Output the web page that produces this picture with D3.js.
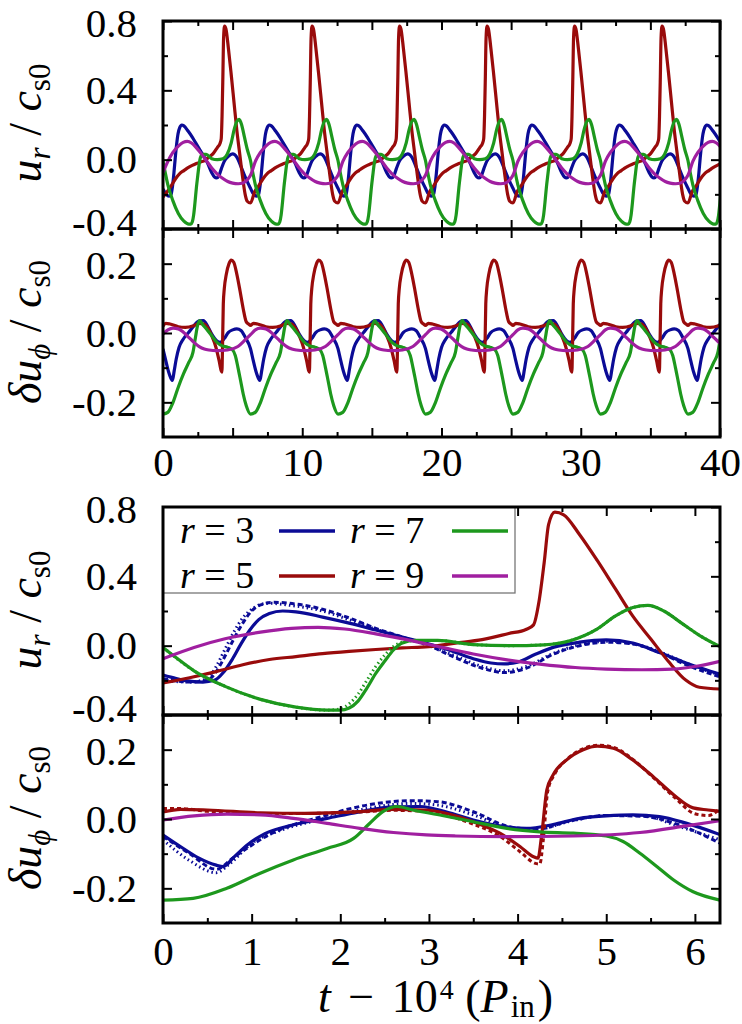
<!DOCTYPE html>
<html><head><meta charset="utf-8">
<script src="https://cdn.jsdelivr.net/npm/d3@7"></script>
<style>body{margin:0;background:#fff}</style>
</head><body><svg id="c" width="742" height="1024" font-family="Liberation Serif"></svg>
<script>
// ---------------- DATA ----------------
// one cycle (t - 10^4 in P_in, 0 .. 2*pi); the top panels show this same cycle repeated over 0..40
const cycleLength = 2 * Math.PI;
const radii = ["3", "5", "7", "9"];
const seriesColors = ["#0b0b96", "#990b0b", "#1d981d", "#a01fa0"];

// u_r / c_s0, solid lines
const ur_r3 = [[0,-0.17],[0.15,-0.19],[0.3,-0.205],[0.45,-0.21],[0.58,-0.2],[0.68,-0.155],[0.78,-0.08],[0.88,0.01],[0.98,0.09],[1.08,0.15],[1.2,0.185],[1.35,0.2],[1.5,0.195],[1.8,0.165],[2.1,0.13],[2.4,0.09],[2.7,0.05],[3.0,0.01],[3.2,-0.02],[3.5,-0.075],[3.7,-0.1],[3.85,-0.105],[4.0,-0.095],[4.2,-0.05],[4.4,-0.01],[4.7,0.02],[5.0,0.033],[5.3,0.015],[5.6,-0.04],[5.9,-0.1],[6.1,-0.135],[6.283,-0.165]];
const ur_r5 = [[0,-0.215],[0.3,-0.185],[0.6,-0.15],[0.9,-0.11],[1.2,-0.08],[1.5,-0.063],[1.8,-0.046],[2.1,-0.033],[2.4,-0.022],[2.7,-0.013],[3.0,-0.005],[3.3,0.015],[3.6,0.035],[3.9,0.07],[4.1,0.095],[4.18,0.12],[4.24,0.25],[4.3,0.48],[4.35,0.7],[4.42,0.77],[4.52,0.755],[4.7,0.64],[4.9,0.49],[5.1,0.33],[5.3,0.17],[5.5,0.04],[5.7,-0.09],[5.9,-0.2],[6.05,-0.24],[6.283,-0.25]];
const ur_r7 = [[0,-0.01],[0.15,-0.07],[0.35,-0.145],[0.7,-0.235],[1.1,-0.31],[1.5,-0.355],[1.85,-0.372],[2.0,-0.372],[2.1,-0.36],[2.2,-0.32],[2.3,-0.245],[2.4,-0.16],[2.5,-0.09],[2.6,-0.025],[2.7,0.015],[2.85,0.03],[3.1,0.03],[3.5,0.006],[3.9,0.0],[4.3,0.005],[4.6,0.03],[4.9,0.097],[5.1,0.17],[5.3,0.22],[5.47,0.232],[5.65,0.2],[5.85,0.13],[6.05,0.06],[6.283,-0.005]];
const ur_r9 = [[0,-0.075],[0.35,-0.01],[0.7,0.04],[1.1,0.078],[1.45,0.1],[1.75,0.106],[2.05,0.096],[2.4,0.068],[2.8,0.029],[3.15,-0.01],[3.5,-0.048],[3.9,-0.083],[4.25,-0.106],[4.65,-0.126],[5.0,-0.135],[5.4,-0.139],[5.75,-0.135],[6.05,-0.116],[6.283,-0.09]];
// u_r / c_s0, other cycles (dashed / dotted) where they differ visibly
const ur_r3_dashed = [[0,-0.19],[0.3,-0.21],[0.5,-0.2],[0.6,-0.15],[0.7,-0.06],[0.8,0.04],[0.9,0.13],[1.0,0.2],[1.1,0.235],[1.25,0.25],[1.5,0.24],[1.8,0.21],[2.1,0.16],[2.4,0.1],[2.7,0.05],[3.0,0.0],[3.3,-0.07],[3.6,-0.13],[3.85,-0.155],[4.1,-0.13],[4.4,-0.05],[4.7,0.0],[5.0,0.02],[5.3,0.01],[5.6,-0.04],[5.9,-0.11],[6.283,-0.18]];
const ur_r3_dotted = [[0,-0.2],[0.3,-0.21],[0.5,-0.19],[0.6,-0.12],[0.7,-0.02],[0.8,0.08],[0.9,0.16],[1.03,0.22],[1.18,0.245],[1.4,0.235],[1.8,0.2],[2.1,0.15],[2.4,0.095],[2.7,0.045],[3.0,0.0],[3.3,-0.06],[3.6,-0.12],[3.85,-0.145],[4.1,-0.12],[4.4,-0.045],[4.7,0.005],[5.0,0.025],[5.3,0.012],[5.6,-0.035],[5.9,-0.1],[6.283,-0.17]];
const ur_r7_dotted = [[0,-0.01],[0.35,-0.145],[0.7,-0.235],[1.1,-0.31],[1.5,-0.355],[1.85,-0.372],[2.0,-0.365],[2.1,-0.335],[2.2,-0.28],[2.3,-0.2],[2.4,-0.12],[2.5,-0.055],[2.6,-0.005],[2.7,0.02],[2.85,0.03],[3.1,0.03],[3.5,0.006],[3.9,0.0],[4.3,0.005],[4.6,0.03],[4.9,0.097],[5.1,0.17],[5.3,0.22],[5.47,0.232],[5.65,0.2],[5.85,0.13],[6.05,0.06],[6.283,-0.005]];

// delta u_phi / c_s0, solid lines
const up_r3 = [[0,-0.046],[0.2,-0.08],[0.4,-0.112],[0.6,-0.133],[0.68,-0.137],[0.8,-0.11],[0.95,-0.075],[1.15,-0.042],[1.45,-0.018],[1.85,0.002],[2.2,0.02],[2.6,0.035],[2.9,0.036],[3.2,0.02],[3.5,-0.003],[3.85,-0.022],[4.1,-0.027],[4.4,-0.016],[4.7,0.002],[5.0,0.009],[5.3,0.012],[5.6,0.007],[5.9,-0.012],[6.283,-0.045]];
const up_r5 = [[0,0.02],[0.2,0.028],[0.5,0.026],[1.1,0.018],[1.6,0.016],[2.2,0.021],[2.6,0.028],[2.95,0.026],[3.2,0.016],[3.5,-0.008],[3.8,-0.041],[4.03,-0.08],[4.18,-0.109],[4.23,-0.113],[4.27,-0.05],[4.33,0.084],[4.4,0.127],[4.55,0.17],[4.74,0.2],[4.9,0.21],[5.08,0.204],[5.3,0.17],[5.53,0.122],[5.76,0.07],[5.98,0.032],[6.15,0.026],[6.283,0.022]];
const up_r7 = [[0,-0.234],[0.34,-0.229],[0.72,-0.2],[1.09,-0.157],[1.47,-0.118],[1.85,-0.085],[2.15,-0.056],[2.33,-0.013],[2.48,0.021],[2.64,0.036],[2.82,0.026],[3.15,0.01],[3.5,-0.008],[3.88,-0.027],[4.25,-0.037],[4.63,-0.041],[5.0,-0.049],[5.19,-0.065],[5.38,-0.099],[5.57,-0.137],[5.76,-0.176],[5.98,-0.21],[6.283,-0.234]];
const up_r9 = [[0,-0.003],[0.35,0.009],[0.72,0.014],[1.1,0.012],[1.47,0.002],[1.85,-0.0125],[2.22,-0.027],[2.6,-0.039],[2.97,-0.046],[3.3,-0.049],[3.88,-0.051],[4.63,-0.049],[5.38,-0.039],[5.9,-0.02],[6.283,-0.005]];
// delta u_phi / c_s0, other cycles (dashed / dotted)
const up_r3_dashed = [[0,-0.05],[0.3,-0.1],[0.6,-0.145],[0.8,-0.11],[1.2,-0.045],[1.8,0.008],[2.3,0.04],[2.8,0.053],[3.1,0.05],[3.5,0.021],[3.9,-0.022],[4.2,-0.03],[4.6,-0.005],[5.0,0.01],[5.4,0.008],[5.8,-0.015],[6.283,-0.07]];
const up_r3_dotted = [[0,-0.06],[0.3,-0.12],[0.6,-0.155],[0.75,-0.13],[1.0,-0.07],[1.3,-0.035],[1.8,0.0],[2.3,0.03],[2.8,0.045],[3.1,0.04],[3.5,0.012],[3.9,-0.025],[4.2,-0.03],[4.6,-0.006],[5.0,0.01],[5.4,0.01],[5.8,-0.02],[6.283,-0.06]];
const up_r5_dashed = [[0,0.03],[0.2,0.03],[0.5,0.022],[1.1,0.016],[1.6,0.016],[2.2,0.02],[2.6,0.025],[2.95,0.022],[3.2,0.01],[3.5,-0.015],[3.8,-0.05],[4.03,-0.095],[4.2,-0.128],[4.25,-0.13],[4.29,-0.06],[4.34,0.08],[4.42,0.13],[4.57,0.175],[4.76,0.205],[4.92,0.213],[5.1,0.205],[5.32,0.168],[5.55,0.115],[5.78,0.06],[6.0,0.015],[6.15,0.01],[6.283,0.03]];

// axis ticks and labels
const xTopMajor = [0,5,10,15,20,25,30,35,40];
const xTopMinor = [2.5,7.5,12.5,17.5,22.5,27.5,32.5,37.5];
const xTopLabels = {0:"0",10:"10",20:"20",30:"30",40:"40"};
const xBotMajor = [0,1,2,3,4,5,6];
const xBotMinor = [0.5,1.5,2.5,3.5,4.5,5.5];
const xBotLabels = {0:"0",1:"1",2:"2",3:"3",4:"4",5:"5",6:"6"};
const yUrMajor = [0.8,0.4,0.0,-0.4];
const yUrMinor = [0.6,0.2,-0.2];
const yUrLabels = ["0.8","0.4","0.0","-0.4"];
const yUpMajor = [0.2,0.0,-0.2];
const yUpMinor = [0.1,-0.1];
const yUpLabels = ["0.2","0.0","-0.2"];

// ---------------- DRAWING ----------------
const svg = d3.select("#c");
const FONT = "Liberation Serif";
const L = 163, R = 720;
const xTop = d3.scaleLinear([0, 40], [L, R]);
const xBot = d3.scaleLinear([0, cycleLength], [L, R]);
const panels = [
  {id:"p1", x:xTop, y:d3.scaleLinear([-0.4,0.8],[229,21]), yMaj:yUrMajor, yMin:yUrMinor, yLab:yUrLabels, xMaj:xTopMajor, xMin:xTopMinor, xLab:null, kind:"ur", top:true},
  {id:"p2", x:xTop, y:d3.scaleLinear([-0.3,0.3],[437,229]), yMaj:yUpMajor, yMin:yUpMinor, yLab:yUpLabels, xMaj:xTopMajor, xMin:xTopMinor, xLab:xTopLabels, kind:"up", top:true},
  {id:"p3", x:xBot, y:d3.scaleLinear([-0.4,0.8],[715,507]), yMaj:yUrMajor, yMin:yUrMinor, yLab:yUrLabels, xMaj:xBotMajor, xMin:xBotMinor, xLab:null, kind:"ur", top:false},
  {id:"p4", x:xBot, y:d3.scaleLinear([-0.3,0.3],[923,715]), yMaj:yUpMajor, yMin:yUpMinor, yLab:yUpLabels, xMaj:xBotMajor, xMin:xBotMinor, xLab:xBotLabels, kind:"up", top:false}
];
const solidSets = {ur:[ur_r3, ur_r5, ur_r7, ur_r9], up:[up_r3, up_r5, up_r7, up_r9]};
const extraSets = {
  ur:[{d:ur_r3_dashed,c:0,dash:"5,3"},{d:ur_r3_dotted,c:0,dash:"1.5,3"},{d:ur_r7_dotted,c:2,dash:"1.5,3"}],
  up:[{d:up_r3_dashed,c:0,dash:"5,3"},{d:up_r3_dotted,c:0,dash:"1.5,3"},{d:up_r5_dashed,c:1,dash:"4,3"}]
};

const defs = svg.append("defs");

function repeatCycles(arr, maxT) {
  const out = [];
  for (let k = 0; k * cycleLength < maxT; k++) {
    arr.forEach(([t, v], i) => {
      if (k > 0 && i === 0) return;
      out.push([t + k * cycleLength, v]);
    });
  }
  return out;
}

function yLabelDy(p, d) {
  if (p.kind === "ur" && d === -0.4) return "0.17em";
  if (p.kind === "ur" && d === 0.8) return "0.38em";
  if (p.kind === "up" && d === 0.2) return "0.36em";
  return "0.32em";
}

panels.forEach(p => {
  const [y0, y1] = [p.y.range()[1], p.y.range()[0]];
  defs.append("clipPath").attr("id", "clip-" + p.id)
    .append("rect").attr("x", L).attr("y", y0).attr("width", R - L).attr("height", y1 - y0);
  const g = svg.append("g");
  const lines = g.append("g").attr("clip-path", `url(#clip-${p.id})`);
  const line = d3.line().x(d => p.x(d[0])).y(d => p.y(d[1])).curve(d3.curveMonotoneX);
  const sol = solidSets[p.kind];
  if (p.top) {
    sol.forEach((arr, i) => {
      lines.append("path").attr("d", line(repeatCycles(arr, 40)))
        .attr("fill","none").attr("stroke", seriesColors[i]).attr("stroke-width", 3.2)
        .attr("stroke-linejoin","round");
    });
  } else {
    sol.forEach((arr, i) => {
      lines.append("path").attr("d", line(arr))
        .attr("fill","none").attr("stroke", seriesColors[i]).attr("stroke-width", 3.2)
        .attr("stroke-linejoin","round");
      extraSets[p.kind].filter(e => e.c === i).forEach(e => {
        lines.append("path").attr("d", line(e.d))
          .attr("fill","none").attr("stroke", seriesColors[i]).attr("stroke-width", 3)
          .attr("stroke-dasharray", e.dash);
      });
    });
  }

  // axes with inward ticks on all four sides
  const styleAxis = sel => {
    sel.attr("font-family", FONT).attr("font-size", 41);
    sel.select(".domain").remove();
    sel.selectAll(".tick line").attr("stroke","#000").attr("stroke-width",2);
    sel.selectAll("text").attr("font-family", FONT).attr("font-size", 41).attr("fill","#000");
  };
  g.append("g").attr("transform",`translate(${L},0)`)
    .call(d3.axisLeft(p.y).tickValues(p.yMaj).tickSize(-9).tickPadding(26).tickFormat((d,i)=>p.yLab[i]))
    .call(styleAxis)
    .selectAll("text").attr("dy", d => yLabelDy(p, d));
  g.append("g").attr("transform",`translate(${L},0)`)
    .call(d3.axisLeft(p.y).tickValues(p.yMin).tickSize(-5).tickFormat("")).call(styleAxis);
  g.append("g").attr("transform",`translate(${R},0)`)
    .call(d3.axisRight(p.y).tickValues(p.yMaj).tickSize(-9).tickFormat("")).call(styleAxis);
  g.append("g").attr("transform",`translate(${R},0)`)
    .call(d3.axisRight(p.y).tickValues(p.yMin).tickSize(-5).tickFormat("")).call(styleAxis);
  g.append("g").attr("transform",`translate(0,${y1})`)
    .call(d3.axisBottom(p.x).tickValues(p.xMaj).tickSize(-9).tickPadding(p.top ? 10 : 13)
      .tickFormat(d => p.xLab && p.xLab[d] !== undefined ? p.xLab[d] : ""))
    .call(styleAxis);
  g.append("g").attr("transform",`translate(0,${y1})`)
    .call(d3.axisBottom(p.x).tickValues(p.xMin).tickSize(-5).tickFormat("")).call(styleAxis);
  g.append("g").attr("transform",`translate(0,${y0})`)
    .call(d3.axisTop(p.x).tickValues(p.xMaj).tickSize(-9).tickFormat("")).call(styleAxis);
  g.append("g").attr("transform",`translate(0,${y0})`)
    .call(d3.axisTop(p.x).tickValues(p.xMin).tickSize(-5).tickFormat("")).call(styleAxis);
});

// legend (inside panel 3, top-left)
const leg = svg.append("g");
leg.append("rect").attr("x", L).attr("y", 507).attr("width", 352).attr("height", 86)
  .attr("fill","#fff").attr("stroke","#777").attr("stroke-width",1.3);
[0, 1, 2, 3].forEach(i => {
  const col = i < 2 ? 0 : 1, row = i % 2;
  const tx = col === 0 ? 180 : 350, lx0 = col === 0 ? 279 : 452, cy = row === 0 ? 531 : 576;
  const t = leg.append("text").attr("x", tx).attr("y", cy + 12)
    .attr("font-family", FONT).attr("font-size", 38);
  t.append("tspan").attr("font-family", FONT).attr("font-style","italic").text("r");
  t.append("tspan").attr("font-family", FONT).text(" = " + radii[i]);
  leg.append("line").attr("x1", lx0).attr("x2", lx0 + 56).attr("y1", cy).attr("y2", cy)
    .attr("stroke", seriesColors[i]).attr("stroke-width", 3.5);
});

// frames on top
panels.forEach(p => {
  const [y0, y1] = [p.y.range()[1], p.y.range()[0]];
  svg.append("rect").attr("x", L).attr("y", y0).attr("width", R - L).attr("height", y1 - y0)
    .attr("fill","none").attr("stroke","#000").attr("stroke-width",3);
});

// y axis titles
function yTitle(cy, parts) {
  const t = svg.append("text").attr("transform", `translate(41,${cy}) rotate(-90)`)
    .attr("text-anchor","middle").attr("font-family", FONT).attr("font-size", 46);
  parts.forEach(([s, it, sub]) => {
    const ts = t.append("tspan").attr("font-family", FONT).text(s);
    if (it) ts.attr("font-style","italic");
    if (sub === 1) ts.attr("font-size", 31).attr("dy", 9);
    if (sub === -1) ts.attr("dy", -9);
  });
}
yTitle(123, [["u",1,0],["r",1,1],[" / ",0,-1],["c",1,0],["s0",0,1]]);
yTitle(332, [["δu",1,0],["ϕ",1,1],[" / ",0,-1],["c",1,0],["s0",0,1]]);
yTitle(610, [["u",1,0],["r",1,1],[" / ",0,-1],["c",1,0],["s0",0,1]]);
yTitle(818, [["δu",1,0],["ϕ",1,1],[" / ",0,-1],["c",1,0],["s0",0,1]]);

// x axis title
const xt = svg.append("text").attr("x", 318).attr("y", 1012)
  .attr("font-family", FONT).attr("font-size", 46);
xt.append("tspan").attr("font-family", FONT).attr("font-style","italic").text("t");
xt.append("tspan").attr("font-family", FONT).attr("dx", 6).text(" − ");
xt.append("tspan").attr("font-family", FONT).attr("dx", 6).text("10");
xt.append("tspan").attr("font-family", FONT).attr("font-size", 28).attr("dx", 2).attr("dy", -13).text("4");
xt.append("tspan").attr("font-family", FONT).attr("dy", 13).text(" (");
xt.append("tspan").attr("font-family", FONT).attr("font-style","italic").text("P");
xt.append("tspan").attr("font-family", FONT).attr("font-size", 31).attr("dx", 2).attr("dy", 5).text("in");
xt.append("tspan").attr("font-family", FONT).attr("dx", 3).attr("dy", -5).text(")");
</script></body></html>
